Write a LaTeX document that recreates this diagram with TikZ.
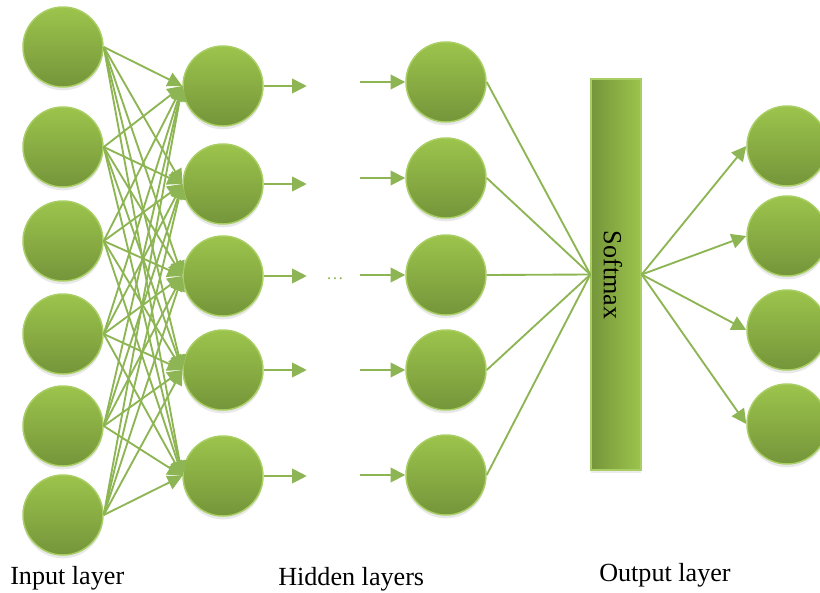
\documentclass[tikz,border=0pt]{standalone}
\usepackage{fontspec}
\setmainfont{Liberation Serif}
\usetikzlibrary{arrows.meta,shadows}

\definecolor{leafgreen}{HTML}{9CC44C}
\definecolor{darkleaf}{HTML}{75953A}
\definecolor{rimgreen}{HTML}{A8CE64}
\definecolor{linkgreen}{HTML}{8DB553}

\begin{document}
\begin{tikzpicture}[x=0.75pt,y=-0.75pt,
    neuron/.style={circle, draw=rimgreen, line width=1.1pt, top color=leafgreen, bottom color=darkleaf,
        minimum size=60pt, inner sep=0pt, drop shadow={opacity=0.18, shadow xshift=0pt, shadow yshift=-2.5pt}},
    link/.style={draw=linkgreen, line width=1.4pt},
    feed/.style={link, -{Triangle[length=11pt,width=11pt]}},
    caption/.style={font=\fontsize{19.6}{23}\selectfont, inner sep=0pt}]
    \useasboundingbox (0,0) rectangle (820,592);

    % input layer
    \node[neuron] (i1) at (63,47) {};
    \node[neuron] (i2) at (63,147) {};
    \node[neuron] (i3) at (63,241) {};
    \node[neuron] (i4) at (63,334) {};
    \node[neuron] (i5) at (63,426) {};
    \node[neuron] (i6) at (63,515) {};

    % first hidden layer
    \node[neuron] (h1) at (223,86) {};
    \node[neuron] (h2) at (223,184) {};
    \node[neuron] (h3) at (223,276) {};
    \node[neuron] (h4) at (223,370) {};
    \node[neuron] (h5) at (223,476) {};

    % last hidden layer
    \node[neuron] (k1) at (446,82) {};
    \node[neuron] (k2) at (446,178) {};
    \node[neuron] (k3) at (446,275) {};
    \node[neuron] (k4) at (446,370) {};
    \node[neuron] (k5) at (446,475) {};

    % softmax bar
    \node[draw=rimgreen, line width=1pt, left color=darkleaf, right color=leafgreen,
        minimum width=37.5pt, minimum height=293pt, inner sep=0pt,
        drop shadow={opacity=0.15, shadow xshift=0pt, shadow yshift=-2.5pt}] (sm) at (616,274.5) {};
    \node[caption, rotate=-90] (smtext) at (613,275) {Softmax};

    % output layer
    \node[neuron] (o1) at (787,146) {};
    \node[neuron] (o2) at (787,236) {};
    \node[neuron] (o3) at (787,330) {};
    \node[neuron] (o4) at (787,424) {};

    % fully connected input -> hidden
    \foreach \i in {1,...,6}
        \foreach \j in {1,...,5}
            \draw[feed] (i\i.east) -- (h\j.west);

    % stubs on both sides of the gap
    \foreach \j in {1,...,5} {
        \path (h\j.east) ++(43,0) coordinate (hout\j);
        \path (k\j.west) ++(-45,0) coordinate (kin\j);
        \draw[feed] (h\j.east) -- (hout\j);
        \draw[feed] (kin\j) -- (k\j.west);
    }
    \node[text=linkgreen, font=\fontsize{13}{15}\selectfont, anchor=base] (gap) at (335,279) {…};

    % into and out of softmax
    \foreach \j in {1,...,5}
        \draw[link] (k\j.east) -- (sm.west);
    \foreach \j in {1,...,4}
        \draw[feed] (sm.east) -- (o\j.west);

    \node[caption, anchor=base west] (inlabel) at (10,584) {Input layer};
    \node[caption, anchor=base west] (hidlabel) at (278,585) {Hidden layers};
    \node[caption, anchor=base west] (outlabel) at (599,581) {Output layer};
\end{tikzpicture}
\end{document}
